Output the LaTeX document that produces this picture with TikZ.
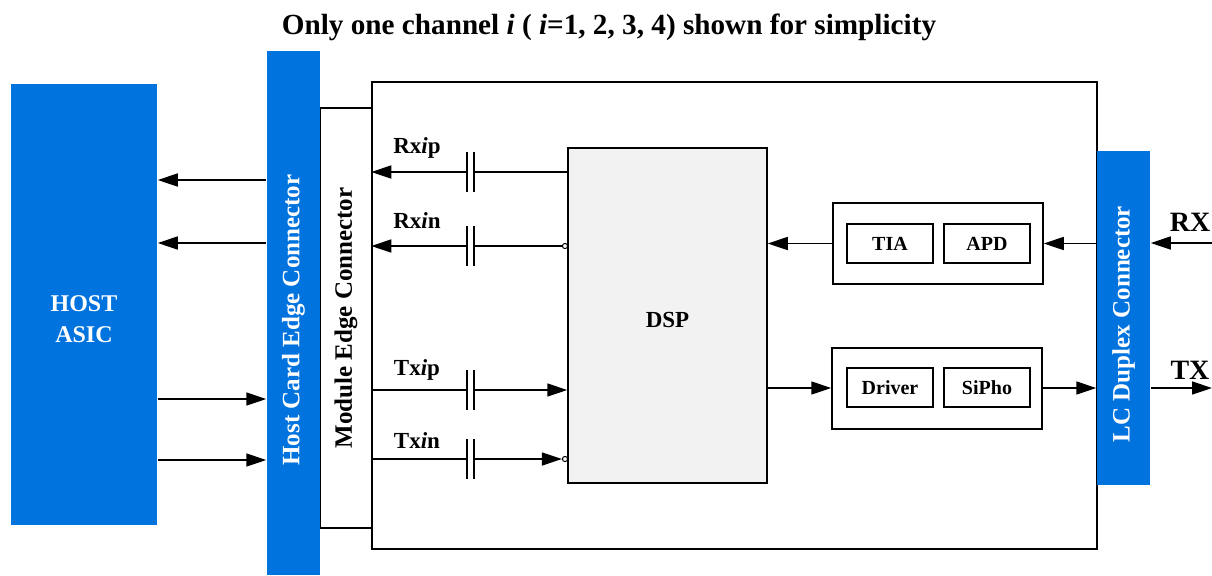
\documentclass[tikz,border=0pt]{standalone}
\usepackage{fontspec}
\setmainfont{Liberation Serif}
\usetikzlibrary{arrows.meta,calc}
\definecolor{hostblue}{RGB}{0,115,222}
\definecolor{dspgray}{RGB}{242,242,242}
\begin{document}
\begin{tikzpicture}[x=0.5pt,y=-0.5pt,line width=0.75pt,
  arr/.style={-{Triangle[length=10pt,width=6.5pt]}},
  bluebar/.style={fill=hostblue,draw=none,inner sep=0pt},
  barlabel/.style={rotate=90,text=white,font=\fontsize{12.5}{14}\selectfont\bfseries},
  plainbox/.style={draw=black,fill=white,inner sep=0pt},
  smallbox/.style={draw=black,fill=white,inner sep=0pt,minimum width=43pt,minimum height=19.5pt,font=\fontsize{10}{12}\selectfont\bfseries},
  sig/.style={font=\fontsize{11.5}{13}\selectfont\bfseries},
  bub/.style={circle,draw=black,fill=white,line width=0.5pt,inner sep=0pt,minimum size=2.6pt},
  plate/.style={line width=0.9pt}]
\useasboundingbox (0,0) rectangle (1212,575);
% title
\node[font=\fontsize{14.6}{17}\selectfont\bfseries] (title) at (609,27) {Only one channel \textit{i} ( \textit{i}=1, 2, 3, 4) shown for simplicity};
% main module box
\node[plainbox,minimum width=362.5pt,minimum height=233.5pt] (module) at (734.5,315.5) {};
\node[plainbox,minimum width=26pt,minimum height=210pt] (mec) at (346,318) {};
\node[rotate=90,font=\fontsize{12.5}{14}\selectfont\bfseries] (meclabel) at (346,318) {Module Edge Connector};
% host asic and host connector
\node[bluebar,minimum width=73pt,minimum height=220.5pt] (asic) at (84,304.5) {};
\node[text=white,align=center,font=\fontsize{12}{15.5}\selectfont\bfseries] (asiclabel) at (84,319) {HOST\\ASIC};
\node[bluebar,minimum width=26.5pt,minimum height=262pt] (hcc) at (293.5,313) {};
\node[barlabel] (hcclabel) at (293.5,320) {Host Card Edge Connector};
% LC duplex connector
\node[bluebar,minimum width=26.5pt,minimum height=167pt] (lc) at (1123.5,318) {};
\node[barlabel] (lclabel) at (1123.5,324) {LC Duplex Connector};
% DSP
\node[draw=black,fill=dspgray,inner sep=0pt,minimum width=99.5pt,minimum height=167.5pt] (dsp) at (667.5,315.5) {};
\node[font=\fontsize{11.5}{13}\selectfont\bfseries] (dsplabel) at (667.5,320) {DSP};
% RX optics
\node[plainbox,minimum width=105pt,minimum height=40.5pt] (rxbox) at (938,243.5) {};
\node[smallbox] (tia) at (890,243.5) {TIA};
\node[smallbox] (apd) at (987,243.5) {APD};
% TX optics
\node[plainbox,minimum width=105pt,minimum height=40.5pt] (txbox) at (937,388.5) {};
\node[smallbox] (driver) at (890,387.5) {Driver};
\node[smallbox] (sipho) at (987,387.5) {SiPho};
% host arrows
\draw[arr] (hcc.west |- 0,180) -- (asic.east |- 0,180);
\draw[arr] (hcc.west |- 0,243) -- (asic.east |- 0,243);
\draw[arr] (asic.east |- 0,399) -- (hcc.west |- 0,399);
\draw[arr] (asic.east |- 0,460) -- (hcc.west |- 0,460);
% capacitor coordinates
\coordinate (c1l) at (467,172); \coordinate (c1r) at (474,172);
\coordinate (c2l) at (467,246); \coordinate (c2r) at (474,246);
\coordinate (c3l) at (467,390); \coordinate (c3r) at (474,390);
\coordinate (c4l) at (467,459); \coordinate (c4r) at (474,459);
\foreach \c in {c1,c2,c3,c4}{
  \draw[plate] ($(\c l)+(0,-20)$) -- ($(\c l)+(0,20)$);
  \draw[plate] ($(\c r)+(0,-20)$) -- ($(\c r)+(0,20)$);
}
% bubbles
\node[bub] (b2) at (565,246) {};
\node[bub] (b4) at (565,459) {};
% Rx lines
\draw (dsp.west |- c1r) -- (c1r);
\draw[arr] (c1l) -- (module.west |- c1l);
\draw (b2.west) -- (c2r);
\draw[arr] (c2l) -- (module.west |- c2l);
% Tx lines
\draw (module.west |- c3l) -- (c3l);
\draw[arr] (c3r) -- (dsp.west |- c3r);
\draw (module.west |- c4l) -- (c4l);
\draw[arr] (c4r) -- (b4.west);
% labels
\node[sig] (lrxp) at (417,148) {Rx\textit{i}p};
\node[sig] (lrxn) at (417,221) {Rx\textit{i}n};
\node[sig] (ltxp) at (417,370) {Tx\textit{i}p};
\node[sig] (ltxn) at (417,441) {Tx\textit{i}n};
% optical paths
\coordinate (rxin) at (1212,243);
\coordinate (txout) at (1212,388);
\draw[arr] (rxin) -- (lc.east |- rxin);
\draw[arr] (lc.west |- rxbox.east) -- (rxbox.east);
\draw[arr] (rxbox.west) -- (dsp.east |- rxbox.west);
\draw[arr] (dsp.east |- 0,388) -- (txbox.west |- 0,388);
\draw[arr] (txbox.east |- 0,388) -- (lc.west |- 0,388);
\draw[arr] (lc.east |- txout) -- (txout);
\node[font=\fontsize{14}{16}\selectfont\bfseries] (lrx) at (1190,222) {RX};
\node[font=\fontsize{14}{16}\selectfont\bfseries] (ltx) at (1190,370) {TX};
\end{tikzpicture}
\end{document}
